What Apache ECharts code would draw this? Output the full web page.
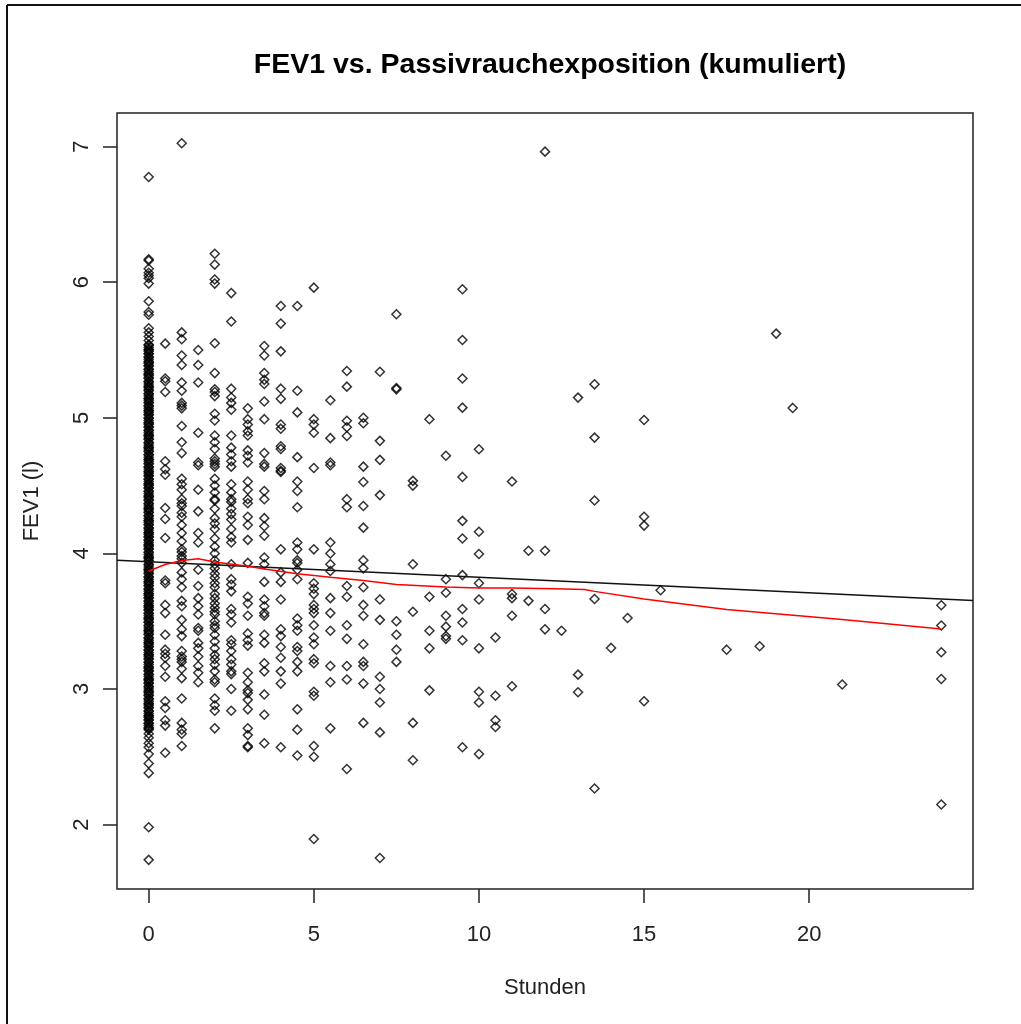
<!DOCTYPE html>
<html>
<head>
<meta charset="utf-8">
<title>FEV1 vs. Passivrauchexposition</title>
<script src="https://cdn.jsdelivr.net/npm/echarts@6/dist/echarts.min.js"></script>
<style>
	* { margin: 0; padding: 0 }
	html, body { width: 100%; height: 100%; background: #fff; }
	#main { width: 1021px; height: 1024px; }
</style>
</head>
<body>
<div id="main"></div>
<script>
var hours = [0, 0.5, 1, 1.5, 2, 2.5, 3, 3.5, 4, 4.5, 5, 5.5, 6, 6.5, 7, 7.5, 8, 8.5, 9, 9.5,
	10, 10.5, 11, 11.5, 12, 12.5, 13, 13.5, 14, 14.5, 15, 15.5, 17.5, 18.5, 19, 19.5, 21, 24];

// Spalte bei 0 Stunden (sehr dicht besetzt)
var fevNull = [6.776, 6.169, 6.16, 6.10, 6.07, 6.05, 6.03, 5.99, 5.86, 5.78, 5.76, 5.66, 5.63, 5.60, 5.57,
	5.54, 5.52, 5.50, 5.49, 5.47, 5.45, 5.43, 5.41, 5.40, 5.38, 5.36, 5.34, 5.32, 5.31, 5.29, 5.27, 5.25, 5.23,
	5.22, 5.20, 5.18, 5.16, 5.14, 5.13, 5.11, 5.09, 5.07, 5.05, 5.04, 5.02, 5.00, 4.98, 4.96, 4.95, 4.93, 4.91,
	4.89, 4.87, 4.86, 4.84, 4.82, 4.80, 4.78, 4.77, 4.75, 4.73, 4.71, 4.69, 4.68, 4.66, 4.64, 4.62, 4.60, 4.59,
	4.57, 4.55, 4.53, 4.51, 4.50, 4.48, 4.46, 4.44, 4.42, 4.41, 4.39, 4.37, 4.35, 4.33, 4.32, 4.30, 4.28, 4.26,
	4.24, 4.23, 4.21, 4.19, 4.17, 4.15, 4.14, 4.12, 4.10, 4.08, 4.06, 4.05, 4.03, 4.01, 3.99, 3.97, 3.96, 3.94,
	3.92, 3.90, 3.88, 3.87, 3.85, 3.83, 3.81, 3.79, 3.78, 3.76, 3.74, 3.72, 3.70, 3.69, 3.67, 3.65, 3.63, 3.61,
	3.60, 3.58, 3.56, 3.54, 3.52, 3.51, 3.49, 3.47, 3.45, 3.43, 3.42, 3.40, 3.38, 3.36, 3.34, 3.33, 3.31, 3.29,
	3.27, 3.25, 3.24, 3.22, 3.20, 3.18, 3.16, 3.15, 3.13, 3.11, 3.09, 3.07, 3.06, 3.04, 3.02, 3.00, 2.98, 2.97,
	2.95, 2.93, 2.91, 2.89, 2.88, 2.86, 2.84, 2.82, 2.80, 2.79, 2.77, 2.75, 2.73, 2.71, 2.70,
	5.535, 5.505, 5.475, 5.445, 5.415, 5.385, 5.355, 5.325, 5.295, 5.265, 5.235, 5.205, 5.175, 5.145, 5.115,
	5.085, 5.055, 5.025, 4.995, 4.965, 4.935, 4.905, 4.875, 4.845, 4.815, 4.785, 4.755, 4.725, 4.695, 4.665,
	4.635, 4.605, 4.575, 4.545, 4.515, 4.485, 4.455, 4.425, 4.395, 4.365, 4.335, 4.305, 4.275, 4.245, 4.215,
	4.185, 4.155, 4.125, 4.095, 4.065, 4.035, 4.005, 3.975, 3.945, 3.915, 3.885, 3.855, 3.825, 3.795, 3.765,
	3.735, 3.705, 3.675, 3.645, 3.615, 3.585, 3.555, 3.525, 3.495, 3.465, 3.435, 3.405, 3.375, 3.345, 3.315,
	3.285, 3.255, 3.225, 3.195, 3.165, 3.135, 3.105, 3.075, 3.045, 3.015, 2.985, 2.955, 2.925, 2.895, 2.865,
	2.835, 2.805, 2.775, 2.745, 2.715,
	2.67, 2.64, 2.60, 2.57, 2.52, 2.45, 2.38, 1.98, 1.74];

var fevByHour = [
	fevNull,
	[5.547, 5.29, 5.27, 5.19, 4.68, 4.62, 4.58, 4.335, 4.254, 4.114, 3.80, 3.78, 3.62, 3.56, 3.40, 3.29, 3.26, 3.23, 3.17, 3.09, 2.91, 2.86, 2.77, 2.73, 2.53],
	[7.025, 5.63, 5.58, 5.46, 5.39, 5.26, 5.20, 5.11, 5.09, 5.07, 4.94, 4.82, 4.74, 4.55, 4.51, 4.47, 4.40, 4.37, 4.35, 4.30, 4.27, 4.21, 4.15, 4.09, 4.03, 4.01, 3.98, 3.96, 3.93, 3.86, 3.81, 3.75, 3.65, 3.61, 3.51, 3.44, 3.39, 3.28, 3.24, 3.22, 3.20, 3.15, 3.08, 2.93, 2.75, 2.70, 2.67, 2.58],
	[5.50, 5.39, 5.26, 4.89, 4.67, 4.65, 4.47, 4.31, 4.15, 4.08, 3.88, 3.76, 3.67, 3.61, 3.55, 3.45, 3.43, 3.34, 3.30, 3.24, 3.17, 3.12, 3.05],
	[6.21, 6.13, 6.02, 5.99, 5.55, 5.33, 5.21, 5.19, 5.16, 5.03, 4.98, 4.87, 4.82, 4.77, 4.70, 4.68, 4.66, 4.64, 4.55, 4.50, 4.45, 4.39, 4.40, 4.33, 4.26, 4.22, 4.18, 4.11, 4.05, 4.00, 3.95, 3.92, 3.89, 3.85, 3.82, 3.78, 3.75, 3.70, 3.67, 3.63, 3.60, 3.57, 3.55, 3.50, 3.47, 3.45, 3.40, 3.35, 3.30, 3.25, 3.22, 3.18, 3.13, 3.07, 3.05, 2.93, 2.88, 2.84, 2.71],
	[5.92, 5.71, 5.215, 5.15, 5.11, 5.06, 4.87, 4.78, 4.73, 4.68, 4.64, 4.51, 4.45, 4.40, 4.38, 4.33, 4.29, 4.25, 4.18, 4.12, 4.08, 3.92, 3.81, 3.77, 3.72, 3.59, 3.55, 3.49, 3.36, 3.33, 3.28, 3.22, 3.18, 3.13, 3.11, 3.00, 2.84],
	[5.07, 4.99, 4.95, 4.90, 4.87, 4.76, 4.72, 4.67, 4.53, 4.47, 4.40, 4.37, 4.27, 4.21, 4.10, 3.93, 3.68, 3.63, 3.54, 3.41, 3.36, 3.32, 3.12, 3.05, 2.99, 2.97, 2.92, 2.85, 2.71, 2.66, 2.57, 2.58],
	[5.53, 5.46, 5.33, 5.28, 5.25, 5.12, 4.99, 4.74, 4.66, 4.64, 4.46, 4.40, 4.26, 4.20, 4.13, 3.97, 3.92, 3.79, 3.66, 3.61, 3.56, 3.54, 3.40, 3.34, 3.19, 3.13, 2.96, 2.81, 2.60],
	[5.825, 5.695, 5.49, 5.215, 5.14, 4.95, 4.92, 4.79, 4.77, 4.63, 4.61, 4.60, 4.03, 3.86, 3.79, 3.66, 3.44, 3.39, 3.31, 3.23, 3.13, 3.04, 2.57],
	[5.825, 5.20, 5.04, 4.71, 4.53, 4.46, 4.34, 4.08, 4.03, 3.95, 3.93, 3.88, 3.81, 3.52, 3.47, 3.43, 3.31, 3.28, 3.20, 3.13, 2.85, 2.70, 2.51],
	[5.96, 4.99, 4.95, 4.89, 4.63, 4.03, 3.78, 3.74, 3.70, 3.62, 3.59, 3.56, 3.47, 3.38, 3.33, 3.22, 3.19, 2.98, 2.95, 2.58, 2.50, 1.894],
	[5.13, 4.85, 4.67, 4.65, 4.08, 4.00, 3.92, 3.87, 3.67, 3.56, 3.43, 3.17, 3.05, 2.71],
	[5.345, 5.23, 4.978, 4.93, 4.866, 4.40, 4.34, 3.76, 3.68, 3.47, 3.37, 3.17, 3.07, 2.41],
	[5.0, 4.96, 4.64, 4.527, 4.35, 4.19, 3.95, 3.89, 3.75, 3.62, 3.54, 3.33, 3.20, 3.17, 3.04, 2.75],
	[5.34, 4.83, 4.69, 4.43, 3.66, 3.51, 3.09, 3.00, 2.90, 2.68, 1.754],
	[5.764, 5.21, 5.22, 3.50, 3.40, 3.29, 3.20],
	[4.535, 4.50, 3.92, 3.57, 2.75, 2.475],
	[4.99, 3.68, 3.43, 3.30, 2.99],
	[4.72, 3.81, 3.71, 3.54, 3.46, 3.39, 3.37],
	[5.948, 5.574, 5.29, 5.075, 4.564, 4.24, 4.11, 3.84, 3.59, 3.49, 3.36, 2.57],
	[4.768, 4.16, 3.996, 3.78, 3.66, 3.30, 2.98, 2.90, 2.52],
	[3.38, 2.95, 2.77, 2.72],
	[4.53, 3.70, 3.67, 3.54, 3.02],
	[4.02, 3.65],
	[6.963, 4.02, 3.59, 3.44],
	[3.43],
	[5.149, 3.106, 2.976],
	[5.247, 4.854, 4.39, 3.664, 2.266],
	[3.303],
	[3.524],
	[4.984, 4.27, 4.205, 2.91],
	[3.728],
	[3.29],
	[3.315],
	[5.621],
	[5.073],
	[3.033],
	[3.618, 3.468, 3.271, 3.074, 2.148]
];

// Regressionsgerade (schwarz), Endpunkte am Plotrand
var fitX = [-0.96, 24.96];
var fitY = [3.95, 3.652];

// Glättungskurve (rot)
var smoothX = [0, 0.5, 1, 1.5, 2, 3, 3.5, 4.5, 5.5, 6.5, 7.5, 9, 10, 11, 12.3, 13.2, 13.5, 15, 17.5, 21, 24];
var smoothY = [3.87, 3.918, 3.947, 3.96, 3.937, 3.905, 3.885, 3.85, 3.824, 3.80, 3.77, 3.753, 3.745, 3.745, 3.74, 3.733, 3.72, 3.664, 3.586, 3.512, 3.443];

var xTicks = [0, 5, 10, 15, 20];
var yTicks = [2, 3, 4, 5, 6, 7];

var points = [];
for (var i = 0; i < hours.length; i++) {
	for (var j = 0; j < fevByHour[i].length; j++) {
		points.push([hours[i], fevByHour[i][j]]);
	}
}
var fitData = fitX.map(function(x, k) { return [x, fitY[k]]; });
var smoothData = smoothX.map(function(x, k) { return [x, smoothY[k]]; });

var font = 'Arial, "Liberation Sans", sans-serif';
var chart = echarts.init(document.getElementById('main'));

chart.setOption({
	animation: false,
	backgroundColor: '#fff',
	title: {
		text: 'FEV1 vs. Passivrauchexposition (kumuliert)',
		left: 545,
		top: 46,
		textAlign: 'center',
		textStyle: { fontFamily: font, fontSize: 28.5, fontWeight: 'bold', color: '#000' }
	},
	grid: {
		left: 117, right: 48, top: 113, bottom: 135,
		show: true, borderColor: '#222', borderWidth: 1.5, backgroundColor: 'transparent'
	},
	xAxis: {
		type: 'value', min: -0.96, max: 24.96,
		name: 'Stunden', nameLocation: 'middle', nameGap: 88,
		nameTextStyle: { fontFamily: font, fontSize: 22, color: '#222' },
		axisLine: { show: false, onZero: false },
		axisTick: { show: true, customValues: xTicks, length: 14, lineStyle: { color: '#222', width: 1.5 } },
		axisLabel: { customValues: xTicks, margin: 35, fontFamily: font, fontSize: 22, color: '#222' },
		splitLine: { show: false }
	},
	yAxis: {
		type: 'value', min: 1.525, max: 7.248,
		name: 'FEV1 (l)', nameLocation: 'middle', nameGap: 74,
		nameTextStyle: { fontFamily: font, fontSize: 22, color: '#222' },
		axisLine: { show: false, onZero: false },
		axisTick: { show: true, customValues: yTicks, length: 14, lineStyle: { color: '#222', width: 1.5 } },
		axisLabel: { customValues: yTicks, rotate: 90, margin: 24, fontFamily: font, fontSize: 22, color: '#222' },
		splitLine: { show: false }
	},
	graphic: [
		{ type: 'line', shape: { x1: 7, y1: 5, x2: 1021, y2: 5 }, style: { stroke: '#111', lineWidth: 2 } },
		{ type: 'line', shape: { x1: 7, y1: 5, x2: 7, y2: 1024 }, style: { stroke: '#111', lineWidth: 2 } }
	],
	series: [
		{
			type: 'scatter',
			data: points,
			symbol: 'path://M0,-1L1,0L0,1L-1,0Z',
			symbolSize: 9,
			itemStyle: { color: 'rgba(0,0,0,0)', borderColor: '#000', borderWidth: 1.5 },
			emphasis: { disabled: true },
			z: 2
		},
		{
			type: 'line',
			data: fitData,
			showSymbol: false,
			lineStyle: { color: '#111', width: 1.5 },
			z: 3
		},
		{
			type: 'line',
			data: smoothData,
			showSymbol: false,
			lineStyle: { color: '#ff0000', width: 1.5 },
			z: 4
		}
	]
});
</script>
</body>
</html>
